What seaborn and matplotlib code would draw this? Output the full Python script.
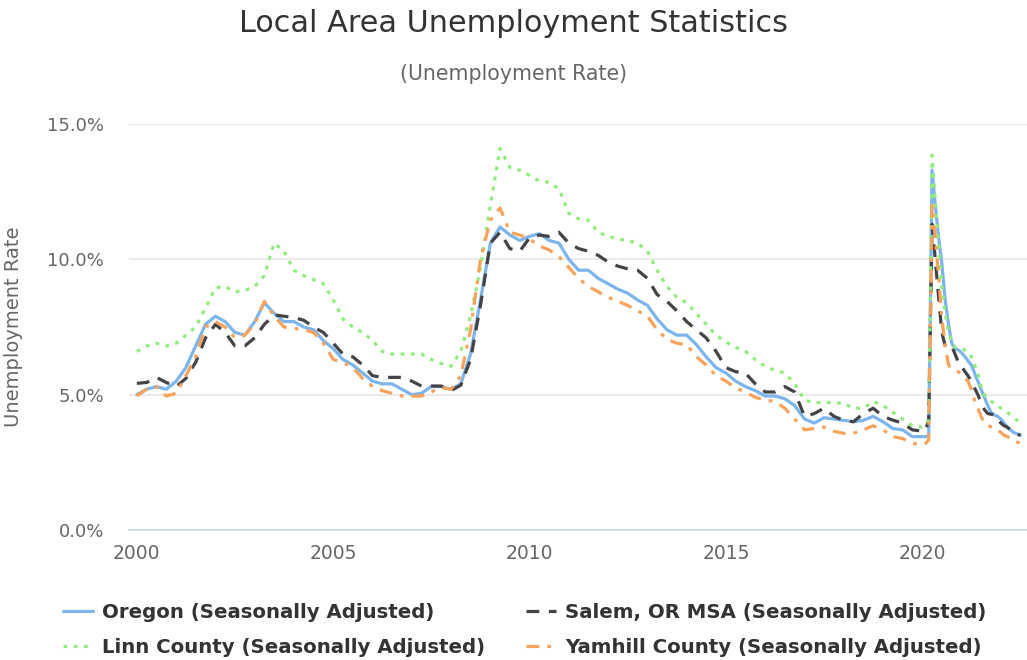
import matplotlib
matplotlib.use("Agg")
import matplotlib.pyplot as plt
import matplotlib.dates as mdates
from matplotlib.ticker import FuncFormatter
import pandas as pd
import seaborn as sns

# Dates: quarterly through 2019, monthly from 2020 (covid spike)
dates = list(pd.date_range("2000-01-01", "2019-10-01", freq="QS")) + \
        list(pd.date_range("2020-01-01", "2022-07-01", freq="MS"))

oregon = [
    5.0, 5.2, 5.3, 5.2, 5.5, 6.0, 6.8, 7.6, 7.9, 7.7, 7.3, 7.2,
    7.7, 8.4, 8.0, 7.7, 7.7, 7.5, 7.4, 7.0, 6.7, 6.3, 6.1, 5.8,
    5.5, 5.4, 5.4, 5.2, 5.0, 5.05, 5.3, 5.3, 5.2, 5.4, 6.5, 8.5,
    10.6, 11.2, 10.9, 10.7, 10.85, 10.95, 10.7, 10.6, 10.0, 9.6, 9.6, 9.3,
    9.1, 8.9, 8.75, 8.5, 8.3, 7.8, 7.4, 7.2, 7.2, 6.85, 6.4, 6.0,
    5.8, 5.5, 5.3, 5.15, 4.95, 4.95, 4.85, 4.6, 4.1, 3.95, 4.15, 4.1,
    4.05, 4.0, 4.05, 4.2, 4.0, 3.75, 3.7, 3.45,
    # 2020-2022 monthly
    3.45, 3.45, 3.5, 13.3, 12.0, 10.8, 9.85, 8.5, 7.6, 6.9, 6.7, 6.65,
    6.55, 6.4, 6.25, 6.1, 5.8, 5.5, 5.2, 4.9, 4.6, 4.35, 4.25, 4.2,
    4.1, 3.95, 3.8, 3.7, 3.6, 3.55, 3.5,
]

salem = [
    5.42, 5.45, 5.64, 5.45, 5.3, 5.6, 6.2, 7.1, 7.6, 7.3, 6.8, 6.8,
    7.1, 7.6, 7.95, 7.9, 7.85, 7.75, 7.5, 7.3, 6.9, 6.5, 6.4, 6.1,
    5.7, 5.64, 5.64, 5.64, 5.5, 5.32, 5.32, 5.32, 5.15, 5.35, 6.3, 8.3,
    10.6, 11.0, 10.4, 10.3, 10.8, 10.9, 10.85, 11.0, 10.6, 10.4, 10.3, 10.15,
    9.9, 9.75, 9.65, 9.6, 9.3, 8.7, 8.45, 8.1, 7.7, 7.4, 7.1, 6.6,
    6.0, 5.85, 5.8, 5.4, 5.1, 5.1, 5.3, 5.1, 4.2, 4.3, 4.5, 4.2,
    4.05, 4.0, 4.3, 4.5, 4.2, 4.06, 3.95, 3.7,
    3.65, 3.7, 4.06, 11.3, 10.0, 8.6, 7.3, 6.8, 6.8, 6.8, 6.5, 6.2,
    6.05, 5.85, 5.7, 5.5, 5.25, 5.0, 4.7, 4.45, 4.3, 4.28, 4.25, 4.1,
    3.95, 3.85, 3.8, 3.7, 3.6, 3.55, 3.5,
]

linn = [
    6.6, 6.8, 6.9, 6.8, 6.9, 7.2, 7.5, 8.2, 8.95, 9.0, 8.8, 8.85,
    9.0, 9.4, 10.6, 10.3, 9.6, 9.4, 9.25, 9.1, 8.5, 7.8, 7.5, 7.3,
    7.0, 6.6, 6.5, 6.5, 6.5, 6.5, 6.3, 6.15, 6.05, 6.6, 7.9, 9.7,
    12.0, 14.1, 13.4, 13.3, 13.1, 12.9, 12.85, 12.6, 11.7, 11.5, 11.45, 11.0,
    10.85, 10.75, 10.7, 10.6, 10.3, 9.6, 9.0, 8.6, 8.4, 8.0, 7.6, 7.2,
    6.95, 6.75, 6.6, 6.3, 6.05, 5.9, 5.8, 5.4, 4.8, 4.7, 4.72, 4.7,
    4.68, 4.5, 4.5, 4.75, 4.6, 4.35, 4.1, 3.85,
    3.8, 3.9, 4.06, 13.85, 12.2, 10.5, 9.0, 8.0, 7.3, 7.0, 6.75, 6.7,
    6.7, 6.65, 6.6, 6.4, 6.1, 5.8, 5.3, 5.0, 4.85, 4.75, 4.7, 4.6,
    4.5, 4.45, 4.35, 4.25, 4.15, 4.05, 4.0,
]

yamhill = [
    4.95, 5.2, 5.3, 4.95, 5.05, 5.7, 6.4, 7.5, 7.7, 7.5, 7.1, 7.2,
    7.6, 8.45, 7.9, 7.5, 7.45, 7.4, 7.3, 6.9, 6.3, 6.2, 6.0, 5.6,
    5.3, 5.15, 5.05, 4.95, 4.95, 4.95, 5.1, 5.27, 5.2, 5.7, 7.4, 10.0,
    11.45, 11.9, 11.0, 10.9, 10.75, 10.5, 10.35, 10.1, 9.7, 9.3, 9.0, 8.8,
    8.6, 8.45, 8.3, 8.1, 7.9, 7.4, 7.05, 6.9, 6.85, 6.4, 6.1, 5.7,
    5.5, 5.25, 5.1, 4.9, 4.8, 4.75, 4.5, 4.1, 3.7, 3.75, 3.8, 3.65,
    3.57, 3.57, 3.7, 3.85, 3.7, 3.45, 3.38, 3.2,
    3.15, 3.2, 3.33, 12.0, 10.8, 9.4, 7.8, 6.8, 6.1, 5.95, 5.9, 5.85,
    5.75, 5.6, 5.5, 5.2, 4.8, 4.5, 4.2, 3.95, 3.85, 3.82, 3.8, 3.7,
    3.6, 3.5, 3.45, 3.4, 3.3, 3.25, 3.2,
]

series_names = [
    "Oregon (Seasonally Adjusted)",
    "Salem, OR MSA (Seasonally Adjusted)",
    "Linn County (Seasonally Adjusted)",
    "Yamhill County (Seasonally Adjusted)",
]
series_values = [oregon, salem, linn, yamhill]
colors = ["#7cb5ec", "#434348", "#90ed7d", "#f7a35c"]
styles = ["-", (0, (4, 3)), (0, (1.2, 2.0)), (0, (4, 2.5, 1.2, 2.5))]

sns.set_style("white")
plt.rcParams["font.family"] = ["DejaVu Sans"]

fig = plt.figure(figsize=(10.27, 6.6), dpi=100)
ax = fig.add_axes([0.1256, 0.197, 0.8744, 0.615])

lines = []
for name, vals, col, ls in zip(series_names, series_values, colors, styles):
    df = pd.DataFrame({"date": dates, "rate": vals})
    sns.lineplot(data=df, x="date", y="rate", ax=ax, color=col, linestyle=ls,
                 linewidth=2.3, label=name, legend=False)
    lines.append(ax.lines[-1])

ax.set_ylim(0, 15)
ax.set_yticks([0, 5, 10, 15])
ax.yaxis.set_major_formatter(FuncFormatter(lambda v, p: f"{v:.1f}%"))
ax.set_xlim(pd.Timestamp("1999-10-20"), pd.Timestamp("2022-09-01"))
ax.xaxis.set_major_locator(mdates.YearLocator(5))
ax.xaxis.set_major_formatter(mdates.DateFormatter("%Y"))

ax.grid(axis="y", color="#e6e6e6", linewidth=1.2)
for s in ["top", "right", "left"]:
    ax.spines[s].set_visible(False)
ax.spines["bottom"].set_color("#ccd6eb")
ax.spines["bottom"].set_linewidth(1.2)
ax.tick_params(axis="x", length=7, color="#ccd6eb", width=1.2, labelsize=13.5,
               labelcolor="#666666", pad=3)
ax.tick_params(axis="y", length=0, labelsize=13, labelcolor="#666666", pad=18)
ax.set_xlabel("")
ax.set_ylabel("Unemployment Rate", fontsize=14, color="#666666")
ax.yaxis.set_label_coords(-0.118, 0.5)

fig.text(0.5, 0.964, "Local Area Unemployment Statistics", ha="center", va="center",
         fontsize=21.8, color="#333333")
fig.text(0.5, 0.888, "(Unemployment Rate)", ha="center", va="center",
         fontsize=14.8, color="#666666")

order = [0, 2, 1, 3]
fig.legend([lines[i] for i in order], [series_names[i] for i in order],
           loc="center", bbox_to_anchor=(0.511, 0.0455), ncol=2, frameon=False,
           prop={"weight": "bold", "size": 14.2}, handlelength=1.5,
           handletextpad=0.45, columnspacing=2.1, labelspacing=0.78,
           labelcolor="#333333")

fig.savefig("out.png", dpi=100)
